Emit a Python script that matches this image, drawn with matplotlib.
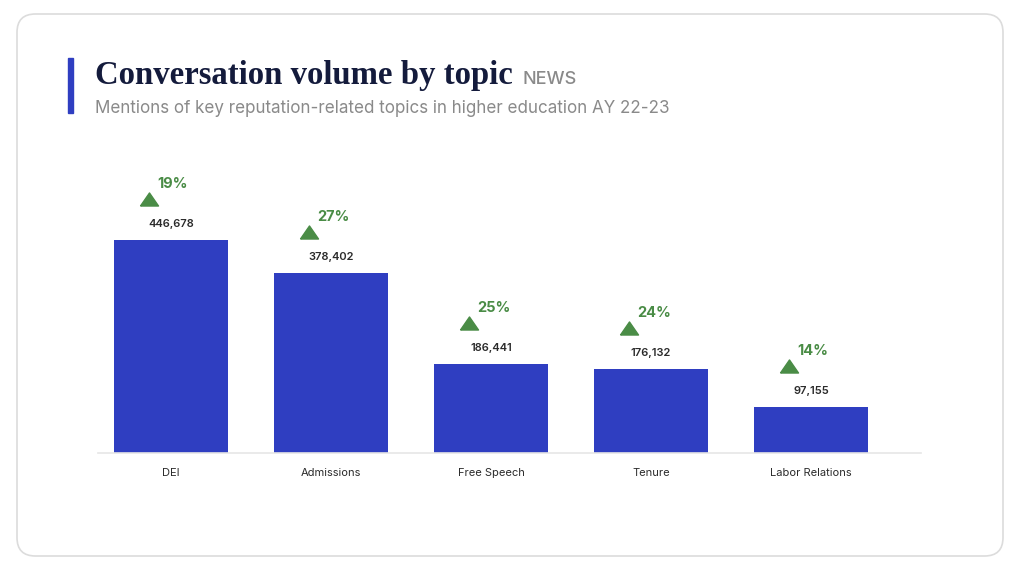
import matplotlib.pyplot as plt
from matplotlib.patches import FancyBboxPatch, Rectangle
from matplotlib.transforms import offset_copy

# data
topics = ["DEI", "Admissions", "Free Speech", "Tenure", "Labor Relations"]
mentions = [446678, 378402, 186441, 176132, 97155]
growth_pct = [19, 27, 25, 24, 14]

W, H = 1024, 579
BAR_BLUE = "#2f3ec1"
GREEN = "#4a8c46"
NAVY = "#141b3c"
GREY = "#8a8a8a"
SANS = ["Inter", "DejaVu Sans"]
UP_TRIANGLE = [(-9, -6.5), (9, -6.5), (0, 6.5), (-9, -6.5)]


def fx(x):
    return x / W


def fy(y):
    return 1 - y / H


fig = plt.figure(figsize=(W / 100, H / 100), dpi=100)
fig.patch.set_facecolor("white")

# card outline (kept behind the axes)
card = FancyBboxPatch((fx(17), fy(556)), fx(986), 542 / H,
                      boxstyle="round,pad=0,rounding_size=0.018",
                      transform=fig.transFigure, facecolor="white",
                      edgecolor="#dcdcdc", linewidth=1.2,
                      mutation_aspect=W / H, zorder=-5)
fig.patches.append(card)

# accent bar left of title
fig.patches.append(Rectangle((fx(68), fy(113)), fx(5), 55 / H,
                             transform=fig.transFigure, color=BAR_BLUE, zorder=-4))

# titles
t = fig.text(fx(95), fy(84), "Conversation volume by topic",
             family="Liberation Serif", weight="bold", fontsize=23.6,
             color=NAVY, va="baseline")
fig.canvas.draw()
bb = t.get_window_extent()
fig.text(bb.x1 / W + fx(10), fy(84), "NEWS", family=SANS, fontsize=13,
         color=GREY, va="baseline", weight="medium")
fig.text(fx(95), fy(113), "Mentions of key reputation-related topics in higher education AY 22-23",
         family=SANS, fontsize=12.25, color=GREY, va="baseline")

# chart
ax = fig.add_axes([fx(98), fy(453), fx(823), 303 / H])
ax.set_zorder(2)
ax.patch.set_alpha(0)
x = range(len(topics))
bars = ax.bar(x, mentions, width=0.7125, color=BAR_BLUE, zorder=2)
ax.set_xlim(-0.456, 4.6875)
ax.set_ylim(0, 446678 * 303 / 213)

for s in ["top", "right", "left"]:
    ax.spines[s].set_visible(False)
ax.spines["bottom"].set_color("#e6e6e6")
ax.spines["bottom"].set_linewidth(1.2)
ax.set_yticks([])
ax.set_xticks(list(x))
ax.set_xticklabels(topics, family=SANS, fontsize=8, color="#2b2b2b")
ax.tick_params(axis="x", length=0, pad=11)

for i, (v, g) in enumerate(zip(mentions, growth_pct)):
    ax.text(i, v, f"{v:,}", ha="center", va="center", family=SANS,
            fontsize=8, color="#2b2b2b", weight="semibold",
            transform=offset_copy(ax.transData, fig=fig, x=0, y=16, units="dots"))
    ax.plot([i], [v], marker=UP_TRIANGLE, markersize=13, color=GREEN,
            linestyle="none", clip_on=False,
            transform=offset_copy(ax.transData, fig=fig, x=-22, y=41, units="dots"))
    ax.text(i, v, f"{g}%", ha="left", va="center", family=SANS,
            fontsize=10.5, color=GREEN, weight="bold",
            transform=offset_copy(ax.transData, fig=fig, x=-14, y=56, units="dots"))

fig.savefig("out.png", dpi=100)
